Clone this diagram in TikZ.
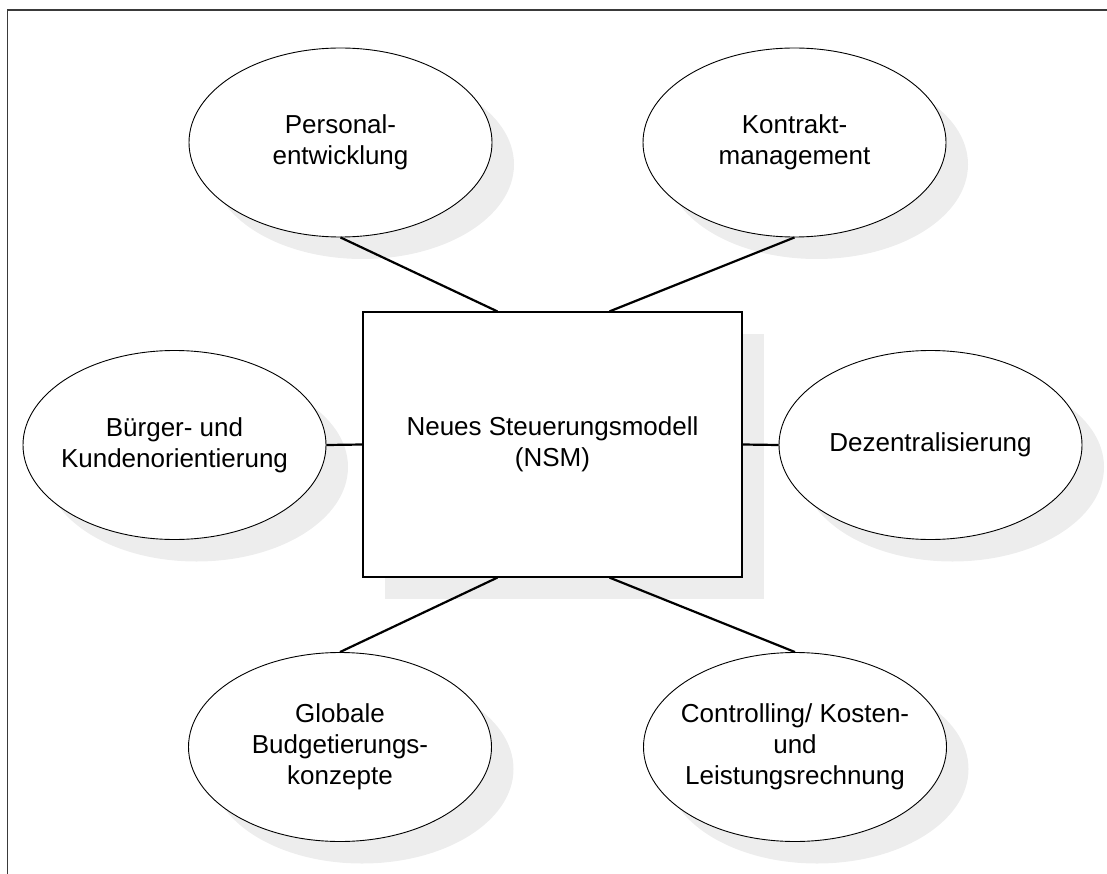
\documentclass[tikz,border=0pt]{standalone}
\usepackage{fontspec}
\setmainfont{Liberation Sans}
\usetikzlibrary{shapes.geometric,shadows,calc}
\definecolor{shadowgray}{HTML}{EDEDED}
\definecolor{framegray}{HTML}{3A3A3A}
\begin{document}
\begin{tikzpicture}[x=1pt,y=-1pt,
  lbl/.style={font=\fontsize{26}{31}\selectfont, align=center, text=black, inner sep=0pt},
  shad/.style={drop shadow={shadow xshift=22pt,shadow yshift=-22pt,fill=shadowgray,opacity=1}},
  bubble/.style={ellipse, draw=black, line width=0.9pt, fill=white, shad,
    minimum width=303pt, minimum height=189pt, inner sep=0pt,
    label={[lbl]center:#1}},
  central/.style={rectangle, draw=black, line width=1.2pt, fill=white, shad,
    minimum width=379pt, minimum height=265pt, inner sep=0pt, lbl},
  link/.style={draw=black, line width=2.2pt},
  frameline/.style={draw=framegray, line width=1.6pt}]
\useasboundingbox (0,0) rectangle (1107,874);
% frame
\coordinate (ftr) at (1107,10);
\coordinate (ftl) at (7.5,10);
\coordinate (fbl) at (7.5,874);
\draw[frameline] (ftr) -- (ftl) -- (fbl);
% nodes
\node[central] (nsm) at (552.5,444.5) {Neues Steuerungsmodell\\(NSM)};
\node[bubble={Personal-\\entwicklung}] (pe) at (340.5,142.5) {};
\node[bubble={Kontrakt-\\management}] (km) at (794.5,142.5) {};
\node[bubble={Bürger- und\\Kundenorientierung}] (bko) at (174.5,445) {};
\node[bubble={Dezentralisierung}] (dez) at (930.5,445) {};
\node[bubble={Globale\\Budgetierungs-\\konzepte}] (bge) at (340,747) {};
\node[bubble={Controlling/ Kosten-\\und\\Leistungsrechnung}] (ccl) at (795,747) {};
% connectors
\draw[link] (pe.south) -- ($(nsm.north west)!0.355!(nsm.north east)$);
\draw[link] (km.south) -- ($(nsm.north west)!0.65!(nsm.north east)$);
\draw[link] (bko.east) -- (nsm.west);
\draw[link] (nsm.east) -- (dez.west);
\draw[link] ($(nsm.south west)!0.355!(nsm.south east)$) -- (bge.north);
\draw[link] ($(nsm.south west)!0.65!(nsm.south east)$) -- (ccl.north);
\end{tikzpicture}
\end{document}
